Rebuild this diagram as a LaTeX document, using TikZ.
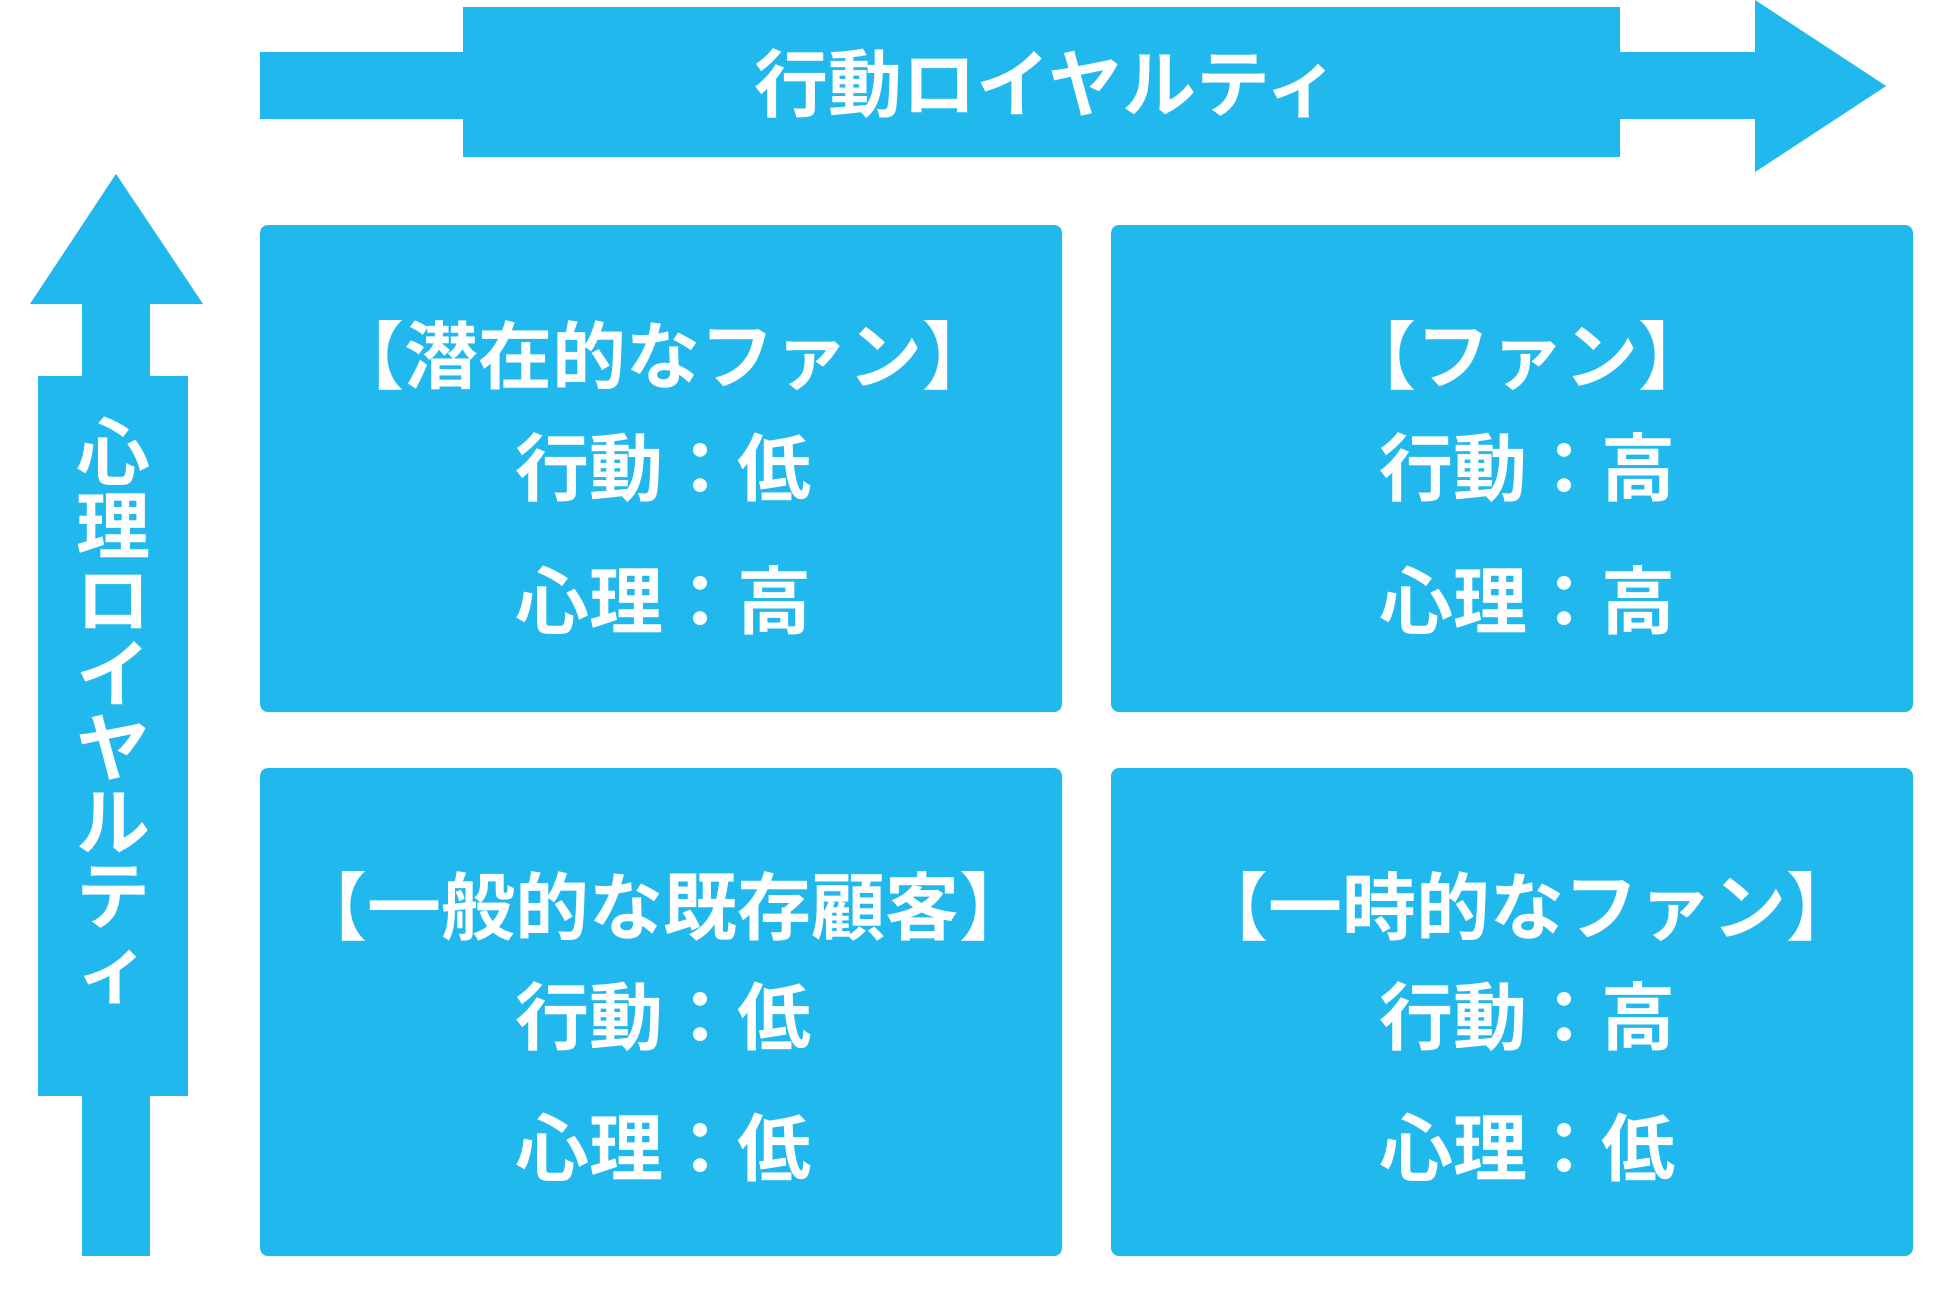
\documentclass[tikz,border=0pt]{standalone}
\usepackage{fontspec}
\setmainfont{Noto Sans CJK JP}[BoldFont={Noto Sans CJK JP Bold}]
\definecolor{skyblue}{RGB}{33,185,237}
\tikzset{
  fillshape/.style={fill=skyblue, draw=none},
  quad/.style={fill=skyblue, draw=none, rounded corners=8pt},
  lbl/.style={text=white, font=\bfseries\fontsize{74}{74}\selectfont, inner sep=0pt, anchor=base},
  vlbl/.style={text=white, font=\bfseries\fontsize{74}{74}\selectfont, inner sep=0pt, align=center}
}
\begin{document}
\begin{tikzpicture}[x=1pt,y=-1pt]
\useasboundingbox (0,0) rectangle (1938,1290);
% top arrow (behaviour loyalty)
\fill[fillshape] (260,52) rectangle (1756,119);
\fill[fillshape] (463,7) rectangle (1620,157);
\fill[fillshape] (1755,0) -- (1886,86) -- (1755,172) -- cycle;
\node[lbl] (hlabel) at (1047,111) {行動ロイヤルティ};
% left arrow (psychological loyalty)
\fill[fillshape] (82,303) rectangle (150,1256);
\fill[fillshape] (38,376) rectangle (188,1096);
\fill[fillshape] (30,304) -- (116,174) -- (203,304) -- cycle;
\node[vlbl] (vlabel) at (113,710) {心\\理\\ロ\\イ\\ヤ\\ル\\テ\\ィ};
% quadrants
\path[quad] (260,225) rectangle (1062,712);
\path[quad] (1111,225) rectangle (1913,712);
\path[quad] (260,768) rectangle (1062,1256);
\path[quad] (1111,768) rectangle (1913,1256);
% top-left
\node[lbl] (tlt) at (663,383) {【潜在的なファン】};
\node[lbl] (tla) at (663,495) {行動：低};
\node[lbl] (tlb) at (663,628) {心理：高};
% top-right
\node[lbl] (trt) at (1527,383) {【ファン】};
\node[lbl] (tra) at (1527,495) {行動：高};
\node[lbl] (trb) at (1527,628) {心理：高};
% bottom-left
\node[lbl] (blt) at (663,934) {【一般的な既存顧客】};
\node[lbl] (bla) at (663,1044) {行動：低};
\node[lbl] (blb) at (663,1175) {心理：低};
% bottom-right
\node[lbl] (brt) at (1527,934) {【一時的なファン】};
\node[lbl] (bra) at (1527,1044) {行動：高};
\node[lbl] (brb) at (1527,1175) {心理：低};
\end{tikzpicture}
\end{document}
